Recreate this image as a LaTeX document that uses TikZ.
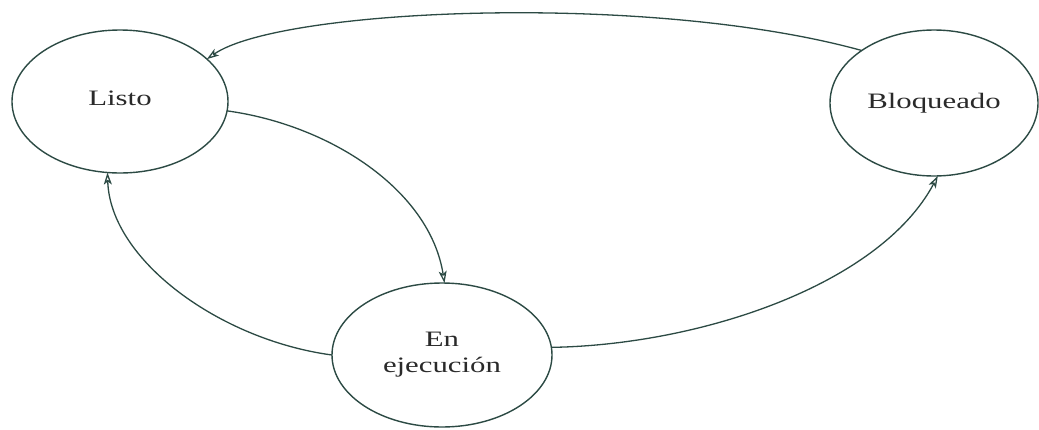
\documentclass[tikz,border=0pt]{standalone}
\usepackage{fontspec}
\setmainfont{Liberation Serif}
\usetikzlibrary{shapes.geometric,arrows.meta}
\definecolor{linec}{HTML}{2C4A44}
\definecolor{textc}{HTML}{2A2A2A}
\newcommand{\sx}[1]{\scalebox{1.4}[1]{#1}}
\tikzset{
  state/.style={ellipse, draw=linec, line width=1.4pt, inner sep=0pt, outer sep=0pt,
    text=textc, align=center, font=\fontsize{22}{26}\selectfont},
  arr/.style={draw=linec, line width=1.3pt,
    -{Stealth[open,length=12pt,width=8pt,inset=3pt]}}
}
\begin{document}
\begin{tikzpicture}[x=1pt,y=-1pt]
\useasboundingbox[fill=white] (0,0) rectangle (1039,429);
\node[state, minimum width=216pt, minimum height=143pt] (listo) at (120,101.5) {\raisebox{6pt}{\sx{Listo}}};
\node[state, minimum width=208pt, minimum height=146pt] (bloq) at (934,103) {\sx{Bloqueado}};
\node[state, minimum width=220pt, minimum height=144pt] (ejec) at (442,355) {\sx{En}\\\sx{ejecución}};
\draw[arr] (bloq.144) .. controls (650,-8) and (280,8) .. (listo.26);
\draw[arr] (listo.-5) .. controls (330,125) and (430,190) .. (ejec.88);
\draw[arr] (ejec.180) .. controls (220,340) and (110,260) .. (listo.-100);
\draw[arr] (ejec.4) .. controls (700,345) and (880,285) .. (bloq.-87);
\end{tikzpicture}
\end{document}
